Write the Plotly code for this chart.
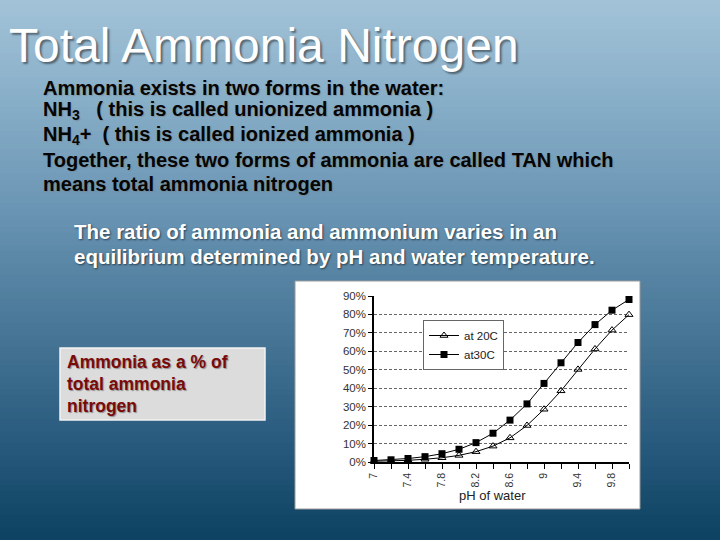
import plotly.graph_objects as go

# ---- data ----
ph = [7.0, 7.2, 7.4, 7.6, 7.8, 8.0, 8.2, 8.4, 8.6, 8.8, 9.0, 9.2, 9.4, 9.6, 9.8, 10.0]
at_20c = [0.4, 0.6, 0.9, 1.5, 2.3, 3.6, 5.6, 8.6, 13.1, 19.8, 28.6, 38.6, 50.2, 61.3, 71.5, 79.9]
at_30c = [0.8, 1.2, 1.9, 2.9, 4.5, 6.9, 10.5, 15.6, 22.7, 31.5, 42.6, 53.8, 64.8, 74.5, 82.3, 88.1]
x_tick_vals = [7, 7.4, 7.8, 8.2, 8.6, 9, 9.4, 9.8]
x_tick_text = ["7", "7.4", "7.8", "8.2", "8.6", "9", "9.4", "9.8"]
y_tick_vals = [0, 10, 20, 30, 40, 50, 60, 70, 80, 90]
y_tick_text = ["0%", "10%", "20%", "30%", "40%", "50%", "60%", "70%", "80%", "90%"]

W, H = 720, 540


def px(x):
    return x / W


def py(y):
    return 1 - y / H


def hex2rgb(h):
    h = h.lstrip("#")
    return tuple(int(h[i:i + 2], 16) for i in (0, 2, 4))


stops = [(0.0, "#a3c3d8"), (0.2, "#86adc7"), (0.4, "#6893b2"),
         (0.6, "#4a7898"), (0.8, "#2b5d80"), (1.0, "#0d4262")]


def grad(t):
    for (t0, c0), (t1, c1) in zip(stops[:-1], stops[1:]):
        if t0 <= t <= t1:
            f = (t - t0) / (t1 - t0)
            a, b = hex2rgb(c0), hex2rgb(c1)
            return "rgb(%d,%d,%d)" % tuple(round(a[i] + (b[i] - a[i]) * f) for i in range(3))
    return stops[-1][1]


shapes = []
N = 90
for i in range(N):
    t0, t1 = i / N, (i + 1) / N
    shapes.append(dict(type="rect", xref="paper", yref="paper", x0=-0.01, x1=1.01,
                       y0=1 - t1 - 0.002, y1=1 - t0 + 0.002, fillcolor=grad((t0 + t1) / 2),
                       line=dict(width=0), layer="below"))
# white chart panel
shapes.append(dict(type="rect", xref="paper", yref="paper", x0=px(295), x1=px(640),
                   y0=py(509), y1=py(281), fillcolor="white",
                   line=dict(color="#9a9a9a", width=1), layer="below"))
# label box
shapes.append(dict(type="rect", xref="paper", yref="paper", x0=px(60), x1=px(265),
                   y0=py(420), y1=py(348), fillcolor="#dcdcdc",
                   line=dict(color="#f2f2f2", width=1.5), layer="below"))

fig = go.Figure()
fig.add_trace(go.Scatter(x=ph, y=at_20c, name="at 20C", mode="lines+markers",
                         line=dict(color="black", width=1),
                         marker=dict(symbol="triangle-up-open", size=7, color="black",
                                     line=dict(width=1, color="black")),
                         cliponaxis=False))
fig.add_trace(go.Scatter(x=ph, y=at_30c, name="at30C", mode="lines+markers",
                         line=dict(color="black", width=1),
                         marker=dict(symbol="square", size=7, color="black"),
                         cliponaxis=False))

FONT = "Liberation Sans, Arial, sans-serif"
white_shadow = "1px 1px 2px rgba(0,0,0,0.55)"
ann = []


def add(text, x, y, size, color, xanchor="left", shadow=None):
    f = dict(family=FONT, size=size, color=color)
    if shadow:
        f["shadow"] = shadow
    ann.append(dict(text=text, x=px(x), y=py(y), xref="paper", yref="paper",
                    xanchor=xanchor, yanchor="middle", showarrow=False, font=f))


add("Total Ammonia Nitrogen", 7, 45, 48, "white", shadow="2px 2px 2px rgba(0,0,0,0.45)")
body = [
    ("Ammonia exists in two forms in the water:", 88),
    ("NH<sub>3</sub>   ( this is called unionized ammonia )", 111),
    ("NH<sub>4</sub>+  ( this is called ionized ammonia )", 135),
    ("Together, these two forms of ammonia are called TAN which", 160),
    ("means total ammonia nitrogen", 184),
]
for t, y in body:
    add("<b>%s</b>" % t, 41, y, 20, "#050505", shadow="1px 1px 1px rgba(120,120,120,0.5)")
for t, y in [("The ratio of ammonia and ammonium varies in an", 232),
             ("equilibrium determined by pH and water temperature.", 256)]:
    add("<b>%s</b>" % t, 72, y, 20.5, "white", shadow=white_shadow)
for t, y in [("Ammonia as a % of", 362), ("total ammonia", 384), ("nitrogen", 406)]:
    add("<b>%s</b>" % t, 65, y, 17.5, "#7a0a0a", shadow="1px 1px 1px rgba(90,90,90,0.6)")
add("pH of water", 492, 495, 13, "#222", xanchor="center")

fig.update_layout(
    width=W, height=H,
    margin=dict(l=0, r=0, t=0, b=0, pad=0, autoexpand=False),
    paper_bgcolor="#0d4262", plot_bgcolor="rgba(0,0,0,0)",
    shapes=shapes, annotations=ann,
    showlegend=True,
    legend=dict(x=px(423), y=py(320), xanchor="left", yanchor="top",
                bgcolor="white", bordercolor="#666", borderwidth=1,
                font=dict(family=FONT, size=11.5, color="#222"),
                itemwidth=30, tracegroupgap=0),
    xaxis=dict(domain=[px(374), px(629)], range=[7, 10], tickvals=x_tick_vals, ticktext=x_tick_text,
               tickangle=-90, ticks="outside", ticklen=5, tickcolor="black", automargin=False,
               minor=dict(dtick=0.2, tick0=7, ticks="outside", ticklen=5, tickcolor="black", showgrid=False),
               showline=True, linecolor="black", linewidth=1.5, showgrid=False, zeroline=False,
               tickfont=dict(family=FONT, size=10.5, color="#333")),
    yaxis=dict(domain=[py(462), py(296)], range=[0, 90], tickvals=y_tick_vals, ticktext=y_tick_text,
               ticks="outside", ticklen=4, tickcolor="black", automargin=False,
               showline=True, linecolor="black", linewidth=1.5, zeroline=False,
               showgrid=True, gridcolor="#666", griddash="3px,2px", gridwidth=1,
               tickfont=dict(family=FONT, size=11.5, color="#333")),
)

fig.write_html("out.html", config={"displayModeBar": False},
               post_script="document.body.style.margin='0';document.body.style.padding='0';document.body.style.overflow='hidden';")
